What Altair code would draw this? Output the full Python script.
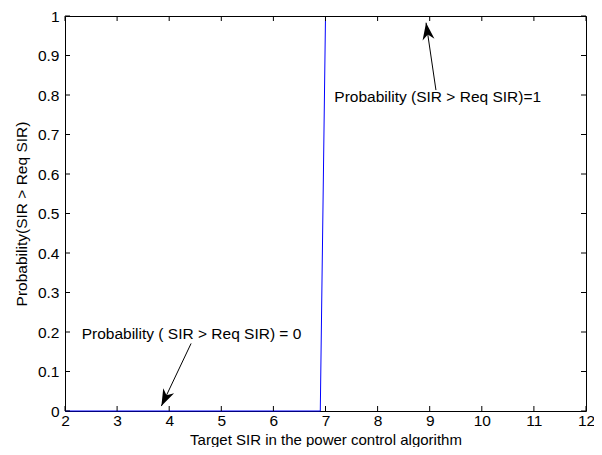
import altair as alt
import pandas as pd

# ---- data ----
x_vals = [2.0, 6.9, 7.0]
prob_vals = [0.0, 0.0, 1.0]

x_ticks = [2, 3, 4, 5, 6, 7, 8, 9, 10, 11, 12]
y_ticks = [0.0, 0.1, 0.2, 0.3, 0.4, 0.5, 0.6, 0.7, 0.8, 0.9, 1.0]

note_text = ["Probability (SIR > Req SIR)=1", "Probability ( SIR > Req SIR) = 0"]
note_x = [7.17, 2.32]
note_y = [0.783, 0.183]
arrow_tail_x = [9.12, 4.42]
arrow_tail_y = [0.8125, 0.171]
arrow_tip_x = [8.93, 3.85]
arrow_tip_y = [0.983, 0.0125]
arrow_angle = [351.7, 205.4]

W, H = 521, 395
FONT = "Liberation Sans"
FS = 15.5

df_line = pd.DataFrame({"x": x_vals, "p": prob_vals})
df_xt = pd.DataFrame({"t": x_ticks})
df_yt = pd.DataFrame({"t": y_ticks})
df_note = pd.DataFrame({"txt": note_text, "x": note_x, "y": note_y})
df_arrow = pd.DataFrame({"x": arrow_tail_x, "y": arrow_tail_y,
                         "x2": arrow_tip_x, "y2": arrow_tip_y, "a": arrow_angle})

xs = alt.Scale(domain=[2, 12], nice=False, zero=False)
ys = alt.Scale(domain=[0, 1], nice=False, zero=False)

x_axis = alt.Axis(
    values=x_ticks, title="Target SIR in the power control algorithm",
    ticks=False, domain=False, grid=False, labelPadding=2,
    labelFlush=False, labelOverlap=False, titleFontSize=15,
    titleX=W / 2, titleY=33, titleBaseline="alphabetic", titleAlign="center")
y_axis = alt.Axis(
    values=y_ticks, format="~g", title="Probability(SIR > Req SIR)",
    ticks=False, domain=False, grid=False, labelPadding=6,
    labelFlush=False, labelOverlap=False,
    titleX=-44, titleY=H / 2, titleBaseline="middle", titleAlign="center", titleAngle=270)


def X(f):
    return alt.X(f, scale=xs, axis=x_axis)


def Y(f):
    return alt.Y(f, scale=ys, axis=y_axis)


line = alt.Chart(df_line).mark_line(color="#0000ff", strokeWidth=1).encode(
    x=X("x:Q"), y=Y("p:Q"), order=alt.Order("x:Q"))

tick_b = alt.Chart(df_xt).mark_rule(color="black", strokeWidth=1).encode(
    x=X("t:Q"), y=alt.value(H), y2=alt.value(H - 5))
tick_t = alt.Chart(df_xt).mark_rule(color="black", strokeWidth=1).encode(
    x=X("t:Q"), y=alt.value(0), y2=alt.value(5))
tick_l = alt.Chart(df_yt).mark_rule(color="black", strokeWidth=1).encode(
    y=Y("t:Q"), x=alt.value(0), x2=alt.value(5))
tick_r = alt.Chart(df_yt).mark_rule(color="black", strokeWidth=1).encode(
    y=Y("t:Q"), x=alt.value(W), x2=alt.value(W - 5))

notes = alt.Chart(df_note).mark_text(
    align="left", baseline="alphabetic", font=FONT, fontSize=FS, color="black"
).encode(x=X("x:Q"), y=Y("y:Q"), text="txt:N")

arrow_line = alt.Chart(df_arrow).mark_rule(color="black", strokeWidth=1).encode(
    x=X("x:Q"), y=Y("y:Q"), x2="x2:Q", y2="y2:Q")

head_path = "M0,0 L0.6,1.7 L0,1.2 L-0.6,1.7 Z"
arrow_head = alt.Chart(df_arrow).mark_point(
    shape=head_path, filled=True, size=400, color="black", opacity=1, strokeWidth=0
).encode(x=X("x2:Q"), y=Y("y2:Q"), angle=alt.Angle("a:Q", scale=None))

chart = alt.layer(
    line, tick_b, tick_t, tick_l, tick_r, notes, arrow_line, arrow_head
).properties(
    width=W, height=H,
    autosize=alt.AutoSizeParams(type="none"),
    padding={"left": 57, "top": 8, "right": 8, "bottom": 36},
    background="white",
).configure_view(
    stroke="black", strokeWidth=1
).configure_axis(
    labelFont=FONT, titleFont=FONT, labelFontSize=FS, titleFontSize=FS,
    labelColor="black", titleColor="black", titleFontWeight="normal",
)

chart.save("out.html", embed_options={"renderer": "svg", "actions": False})
